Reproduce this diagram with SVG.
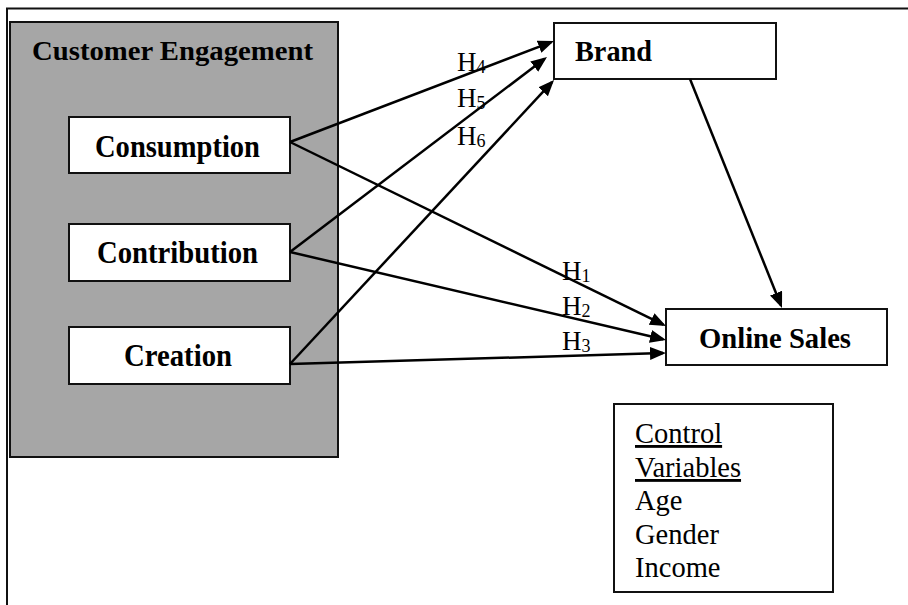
<svg xmlns="http://www.w3.org/2000/svg" width="908" height="605" viewBox="0 0 908 605">
<defs>
<marker id="arr" markerUnits="userSpaceOnUse" markerWidth="17" markerHeight="14" refX="13" refY="6.5" orient="auto">
<path d="M0,0 L16,6.5 L0,13 z" fill="#000"/>
</marker>
<style>
.frame{fill:none;stroke:#111;stroke-width:2}
.box{fill:#fff;stroke:#111;stroke-width:2}
.b{font-family:"Liberation Serif","Times New Roman",serif;font-weight:bold;fill:#000}
.r{font-family:"Liberation Serif","Times New Roman",serif;fill:#000}
.h{font-family:"Liberation Serif","Times New Roman",serif;font-size:27px;fill:#000}
.sub{font-size:18px}
.conn line{stroke:#000;stroke-width:2.5;marker-end:url(#arr)}
</style>
</defs>
<rect width="908" height="605" fill="#fff"/>
<g id="frame">
<line x1="6" y1="8.5" x2="908" y2="8.5" class="frame"/>
<line x1="7" y1="8" x2="7" y2="605" class="frame"/>
</g>
<g id="customer-engagement">
<rect x="10" y="22" width="328" height="435" fill="#a6a6a6" stroke="#111" stroke-width="2"/>
<text x="32" y="60" class="b" font-size="28" textLength="281" lengthAdjust="spacingAndGlyphs">Customer Engagement</text>
</g>
<g id="consumption">
<rect x="69" y="117" width="221" height="56" class="box"/>
<text x="95" y="157" class="b" font-size="31" textLength="165" lengthAdjust="spacingAndGlyphs">Consumption</text>
</g>
<g id="contribution">
<rect x="69" y="224" width="221" height="57" class="box"/>
<text x="97" y="263" class="b" font-size="31" textLength="161" lengthAdjust="spacingAndGlyphs">Contribution</text>
</g>
<g id="creation">
<rect x="69" y="327" width="221" height="57" class="box"/>
<text x="124" y="366" class="b" font-size="31" textLength="108" lengthAdjust="spacingAndGlyphs">Creation</text>
</g>
<g id="brand">
<rect x="554" y="23" width="222" height="56" class="box"/>
<text x="575" y="61" class="b" font-size="29" textLength="77" lengthAdjust="spacingAndGlyphs">Brand</text>
</g>
<g id="online-sales">
<rect x="666" y="309" width="221" height="56" class="box"/>
<text x="699" y="348" class="b" font-size="29" textLength="152" lengthAdjust="spacingAndGlyphs">Online Sales</text>
</g>
<g id="control-variables">
<rect x="614" y="404" width="219" height="188" class="box"/>
<text x="635" y="443" class="r" font-size="28.5" text-decoration="underline">Control</text>
<text x="635" y="477" class="r" font-size="28.5" text-decoration="underline">Variables</text>
<text x="635" y="510" class="r" font-size="28.5">Age</text>
<text x="635" y="544" class="r" font-size="28.5">Gender</text>
<text x="635" y="577" class="r" font-size="28.5">Income</text>
</g>
<g id="connectors" class="conn">
<line x1="290" y1="142" x2="551.2" y2="42.1"/>
<line x1="290" y1="252" x2="544.6" y2="58.8"/>
<line x1="290" y1="364" x2="552.0" y2="82.2"/>
<line x1="290" y1="142" x2="663.3" y2="324.7"/>
<line x1="290" y1="252" x2="663.1" y2="339.3"/>
<line x1="290" y1="364" x2="663" y2="353.1"/>
<line x1="690" y1="79" x2="780.9" y2="305.2"/>
</g>
<g id="labels">
<text x="457" y="71" class="h">H<tspan class="sub" dy="2">4</tspan></text>
<text x="457" y="107" class="h">H<tspan class="sub" dy="2">5</tspan></text>
<text x="457" y="145" class="h">H<tspan class="sub" dy="2">6</tspan></text>
<text x="562" y="280" class="h">H<tspan class="sub" dy="2">1</tspan></text>
<text x="562" y="315" class="h">H<tspan class="sub" dy="2">2</tspan></text>
<text x="562" y="350" class="h">H<tspan class="sub" dy="2">3</tspan></text>
</g>
</svg>
